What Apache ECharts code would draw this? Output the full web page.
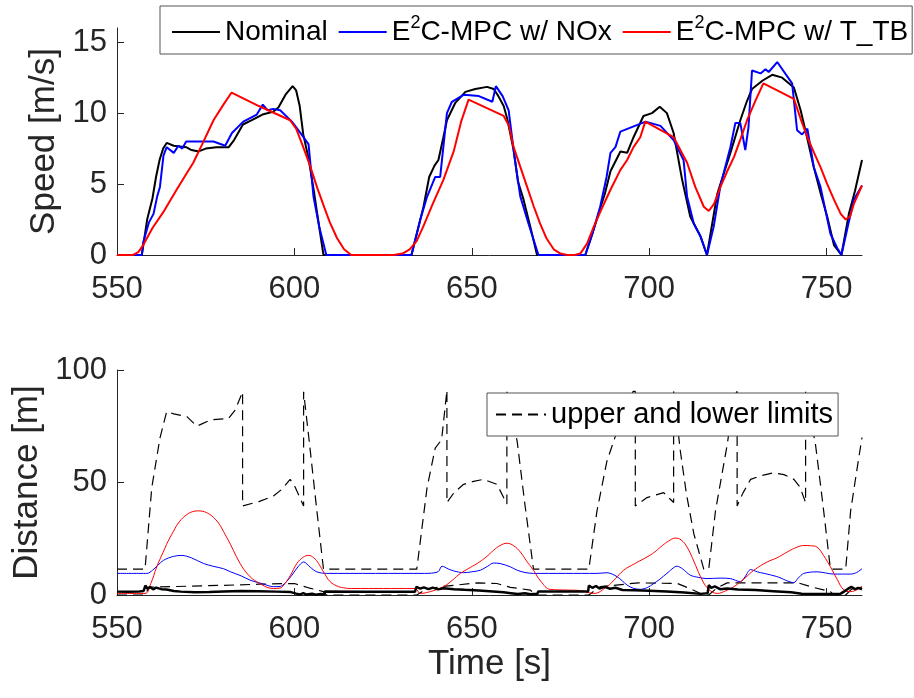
<!DOCTYPE html>
<html>
<head>
<meta charset="utf-8" />
<title>Speed / Distance</title>
<script src="https://cdn.jsdelivr.net/npm/echarts@6/dist/echarts.min.js"></script>
</head>
<body style="margin:0;background:#fff;">
<div id="main" style="width:914px;height:698px;"></div>
<script>
// --- data, [time s, value] ---
var xTicks = [550, 600, 650, 700, 750];
var speedTicks = [0, 5, 10, 15];
var distTicks = [0, 50, 100];
var legendTop = ['Nominal', 'E2C-MPC w/ NOx', 'E2C-MPC w/ T_TB'];
var limitName = 'upper and lower limits';

var speedNominal = [[550,0],[557,0],[558.5,2.5],[560,4],[561,5.5],[562,6.7],[563,7.5],[564,7.9],[566,7.7],[569.5,7.6],[571,7.4],[573,7.3],[575,7.5],[578,7.6],[581.5,7.6],[583,8.1],[585.5,9.2],[588,9.5],[591,9.9],[594,10.1],[595.5,10.4],[597.5,11.3],[599.5,11.9],[600.5,11.6],[601.5,10.5],[602.5,8.5],[604,6.8],[605.5,4.5],[606.5,2.8],[608.2,0],
  [633,0],[634.5,1.5],[636.4,3.4],[638,5.5],[639.5,6.3],[640.6,6.7],[642,8.3],[643,9.5],[645.3,10.7],[648.2,11.5],[651,11.7],[654.3,11.85],[656.2,11.7],[657.5,11.2],[659,10.5],[660,9.6],[661.8,7.4],[663,5.2],[664.6,3.9],[666.5,2.0],[668.4,0],
  [682,0],[684,1.5],[686.2,3.3],[687.5,4.3],[689.1,5.9],[691.9,7.3],[693.8,7.2],[695.6,8.3],[698.4,9.8],[700.8,10.0],[703,10.45],[705,10.0],[706.9,8.6],[709.3,5.3],[711.6,2.7],[714.5,1.3],[716.3,0],[717.5,1.8],[719.2,4.3],[722.9,7.2],[725.7,9.5],[727.5,10.8],[729,11.7],[732,12.3],[734.7,12.7],[737.5,12.5],[740.8,11.8],[742.7,10.2],[744.5,8.3],[746.4,6.2],[748.5,4.2],[750.2,2.7],[752.1,0.7],[754.2,0],[756.3,2.9],[758,4.5],[760,6.7]];

var speedNOx = [[550,0],[557,0],[557.4,0.9],[559,2.3],[560.3,2.9],[561.3,4.1],[562.1,4.8],[563.1,7.0],[564,7.6],[566,7.2],[567.3,7.7],[568.4,7.5],[569.5,8.0],[577.2,8.0],[580.5,7.7],[582.4,8.6],[585.6,9.4],[589.4,9.9],[591.1,10.6],[592.5,10.2],[594,10.3],[596,10.2],[599.3,9.4],[602,8.5],[604,7.8],[605.4,4.1],[607,2.0],[609,0],
  [633,0],[635.5,2.5],[637.4,4.1],[639.7,5.5],[641.1,5.5],[643,10.0],[644.4,10.8],[647.8,11.3],[652,11.2],[655.8,10.8],[656.8,11.9],[658.7,11.2],[660.4,10.2],[662,7.0],[663.7,4.1],[666,2.2],[668.8,0],
  [682,0],[684,1.5],[686.2,3.4],[688,5.5],[689.1,7.2],[690.5,7.6],[691.9,8.7],[699,9.4],[703.2,9.1],[706.9,8.1],[709.7,6.7],[710.7,4.1],[712.6,2.2],[714.5,1.3],[716.3,0],[718.2,2.0],[720.1,4.9],[722.9,7.6],[724.3,9.3],[725.7,9.3],[727.1,7.4],[728,9.0],[729,13.0],[731.4,12.8],[732.8,13.1],[733.7,12.9],[736.1,13.6],[740.3,12.1],[741.7,8.8],[743.1,8.5],[744.6,8.9],[746.4,6.2],[748.3,4.8],[751.1,1.5],[753,0.5],[754.2,0],[755.8,1.8],[757.7,3.9],[760,4.9]];

var speedTTB = [[550,0],[554.5,0],[556,0.2],[557.4,0.7],[560,1.9],[563,3.0],[566.8,4.6],[569,5.5],[571.5,6.5],[574,7.8],[577.2,9.5],[580,10.6],[582.3,11.45],[590,10.5],[598.8,9.5],[600.5,8.9],[602.5,7.6],[604.4,6.3],[606.5,4.7],[608.5,3.3],[610,2.3],[612,1.2],[614,0.4],[616,0],
  [628,0],[630.5,0.1],[632.5,0.4],[634.5,1.0],[636.5,2.1],[639,3.6],[642,5.3],[644.9,7.3],[647,9.4],[649.1,10.95],[659,9.8],[660.5,9.1],[661.8,7.6],[665.6,4.8],[667.5,3.4],[669.3,2.2],[671,1.2],[673.1,0.4],[675,0.1],[676.9,0],[679,0],[680.6,0.1],[682.5,0.8],[684.4,2.0],[686.7,3.3],[689.1,4.6],[691.9,6.0],[693.8,6.7],[695.6,7.6],[697.5,8.3],[698.9,9.4],[706.9,8.3],[708.8,7.4],[710.7,6.5],[713,4.8],[715.4,3.4],[716.8,3.1],[718.3,3.6],[720.1,4.8],[722,5.9],[723.9,6.9],[725.8,8.2],[727.6,9.5],[730,10.9],[732.2,12.1],[740.8,11.0],[742.7,9.6],[744.6,8.3],[746.5,7.2],[748.3,6.2],[750.2,5.0],[752.1,3.9],[754,2.9],[755.4,2.5],[756.6,2.7],[757.7,3.6],[760,4.9]];

var distUpper = [[550,11.5],[557.9,11.5],[559.8,47.7],[562.1,69.7],[564,81.5],[566,80.5],[569.7,79.3],[572.5,75],[576.3,77.8],[579,78.2],[581.4,78.4],[583.3,82.2],[585.4,90.3],[585.4,39.6],[590,41.5],[594.1,44],[596.5,47],[598.8,51.4],[600.2,48],[602.6,39.6],[602.6,90.3],[604.4,65.3],[606.3,38],[608.2,11.5],
  [634.5,11.5],[637.4,47.7],[639.7,65.3],[641.5,69],[643,91],[643,41.1],[645,45.5],[647.7,49.2],[650.5,50.5],[653.3,51.4],[657.1,49.2],[659.9,40.4],[659.9,90.3],[662.8,68.3],[665,40],[667.4,11.5],
  [683,11.5],[685.3,37.4],[688.1,59.5],[690.3,69.7],[693,82],[695.5,90.5],[696.1,90.5],[696.1,39.6],[699.4,43.3],[702,44.5],[704.1,45.5],[706.9,41.1],[706.9,90.5],[708.8,63.9],[710.5,45],[712.6,27.2],[715.4,11.5],[716.8,11.5],[718.7,37.4],[722,66.8],[723.9,88],[724.8,90.5],[724.8,39.6],[726.5,45.5],[728.6,51.4],[731.5,53],[735.1,54.3],[738,53.5],[740.8,51.4],[742.5,48],[744.1,41.1],[744.1,90.5],[746.9,66.8],[749,40],[751.1,11.5],[755.4,11.5],[756.8,37.4],[758.5,55],[760,70]];

var distLower = [[550,0],[557.9,0],[559,3.5],[562,3.6],[570,3.9],[580,4.3],[590,4.8],[597,5.1],[600,5.1],[604,3.2],[608.2,1.5],[609,0],
  [634.5,0],[637,2.5],[642,3.8],[651.5,5.4],[657.1,5.1],[660.9,3.4],[666.5,2.2],[668,0],
  [683,0],[686.2,3.7],[697,5.4],[708,5.1],[712,2.5],[715.4,0],[716.8,0],[719,3],[722,5.4],[742,5.4],[745.5,3.7],[751.1,1.5],[752,0],[755.4,0],[757,2.5],[760,3.5]];

var distNOx = [[550,9.6],[558.5,9.6],[560,11],[563.1,15.4],[566,17.2],[568.3,17.6],[571,16.5],[574.4,14],[577,12.8],[580,11.7],[582,10.3],[585,8.5],[587.5,6.6],[591,5],[594.1,3.7],[596,3.8],[597.5,5.5],[599.3,8.8],[601,12.5],[602.6,14.7],[604.5,12.3],[606.3,10.3],[609,9.6],[636.7,9.6],[640.5,10.3],[641.6,12.8],[643.5,11.5],[644.9,10.7],[647.7,9.9],[650,10.3],[652.4,11],[654.5,12.8],[656.1,14.2],[658,14],[660.9,12.5],[662.8,11],[665,10],[667.4,9.6],[685.3,9.6],[688.1,9.9],[691,8.1],[693.8,4.4],[695.5,3.0],[697.5,2.5],[699.5,3.3],[701.3,5.1],[703,7],[705,9.6],[707.9,12.8],[709.5,11.5],[711.6,8.8],[714,7.8],[716.3,7.3],[720,7.5],[722.9,7.3],[725.7,5.9],[727,8],[728.6,11.3],[730.5,10.3],[732.4,9.6],[736,8.2],[740.8,5.5],[742,7.5],[743.6,9.6],[747.3,10.3],[752.1,9.3],[756.8,9.3],[758.5,10],[760,11.7]];

var distTTB = [[550,0.7],[557.9,0.7],[559.5,5],[561.2,12.5],[563,19],[565,25.7],[568.7,34.5],[572.9,37.4],[577.2,34.5],[580.9,25.7],[584.7,14],[587,9],[589.4,5.9],[594.1,2.9],[596,3.1],[597,4.4],[598.8,8.5],[600.7,14],[602.5,16.8],[604,17.6],[605.5,16.5],[606.8,14],[608.5,9.5],[610.1,5.9],[612,4],[613.8,3.2],[616,2.9],[634,2.9],[635.5,0.7],[638.3,1.5],[642,3.7],[644.5,6.5],[646.8,9.6],[649,11.7],[651.5,14],[654,16.8],[656.1,19.8],[658,22],[659.9,23],[661.8,21.9],[663.7,19.1],[665.5,15],[667.4,11],[669.5,6],[672.1,2.5],[676.9,2.2],[680.5,2],[684.4,0.7],[688.1,3.7],[690.5,7.3],[692.8,11],[696,14],[699.4,16.9],[701.5,19],[703.2,21.3],[705.5,24],[707.4,25.3],[709,24.5],[710.7,21.3],[712.6,15],[714.5,8.1],[716.5,3],[719.2,0.7],[721.5,1.8],[723.9,3.7],[727,7.5],[729.5,11],[733.3,14.7],[736,16.5],[738.9,19.1],[741,20.8],[743.6,22],[745.5,21.9],[747.3,21.3],[749.2,17.5],[751.1,12.5],[753,7],[754.9,2.2],[756.8,1.5],[760,3.7]];

var distNominal = [[550,1.5],[553,1.4],[556,1.5],[557.5,1.8],[558,4.2],[558.6,2.8],[559.3,3.6],[560.2,2.5],[561,3.3],[562.5,2.6],[564,2.4],[566,1.8],[568,1.5],[572,1.2],[576,1.3],[580,1.6],[585,1.8],[590,1.7],[595,1.5],[599,1.3],[600.5,0.6],[601.5,0.2],[602.5,0.8],[603.5,0.2],[605,0.6],[606,0.1],[607.5,0.5],[608.3,0.2],[608.6,1.6],[620,1.5],[634,1.5],[634.4,3.6],[635.5,2.8],[636.5,3.4],[637.8,2.6],[639,3.3],[640.5,2.5],[642,3.0],[645,2.6],[648,2.3],[652,2.0],[656,1.6],[659,1.2],[661,0.8],[663,0.4],[665,0.8],[666.5,0.3],[668.5,0.6],[668.8,1.6],[676,1.6],[682.8,1.6],[683,4.2],[684,3.2],[685,4.0],[686,2.9],[687.5,3.6],[689,2.8],[690.5,3.2],[692.5,2.2],[696,2.1],[700,1.9],[705,1.6],[710,1.1],[714.5,0.5],[716.5,0.8],[716.8,4.4],[717.5,3.2],[718.5,3.8],[720,2.6],[722,2.9],[725,2.4],[730,2.2],[735,1.7],[740,1.2],[743,0.6],[748,0.5],[752,0.4],[754,0.6],[755,1.6],[756,2.7],[757,3.6],[758,2.6],[759,3.2],[760,2.5]];

var axisColor = '#262626';
var fontFam = '"Liberation Sans", Arial, Helvetica, sans-serif';

function xAxisCfg(gridIndex, withName) {
  return {
    type: 'value', gridIndex: gridIndex, min: 550, max: 760, interval: 50,
    name: withName ? 'Time [s]' : '', nameLocation: 'middle', nameGap: 52,
    nameTextStyle: { fontSize: 35, color: axisColor, fontFamily: fontFam },
    axisLine: { lineStyle: { color: axisColor, width: 1 } },
    axisTick: { inside: true, length: 7, customValues: xTicks, lineStyle: { color: axisColor } },
    axisLabel: { customValues: xTicks, fontSize: 31, color: axisColor, fontFamily: fontFam, margin: 19 },
    splitLine: { show: false }
  };
}
function yAxisCfg(gridIndex, name, max, interval, ticks, gap) {
  return {
    type: 'value', gridIndex: gridIndex, min: 0, max: max, interval: interval,
    name: name, nameLocation: 'middle', nameGap: gap,
    nameTextStyle: { fontSize: 35, color: axisColor, fontFamily: fontFam },
    axisLine: { show: true, lineStyle: { color: axisColor, width: 1 } },
    axisTick: { show: true, inside: true, length: 7, customValues: ticks, lineStyle: { color: axisColor } },
    axisLabel: { customValues: ticks, fontSize: 31, color: axisColor, fontFamily: fontFam, margin: 10 },
    splitLine: { show: false }
  };
}
function line(name, data, color, width, xi, extra) {
  var s = {
    name: name, type: 'line', xAxisIndex: xi, yAxisIndex: xi, data: data,
    symbol: 'none', showSymbol: false, lineStyle: { color: color, width: width },
    itemStyle: { color: color }, z: 2
  };
  for (var k in extra) s[k] = extra[k];
  return s;
}

var dom = document.getElementById('main');
var myChart = echarts.init(dom, null, { renderer: 'canvas' });

var dashed = { color: '#000', width: 1.2, type: [10, 6] };

var option = {
  animation: false,
  backgroundColor: '#fff',
  textStyle: { fontFamily: fontFam },
  grid: [
    { left: 117, right: 52, top: 28, height: 227 },
    { left: 117, right: 52, top: 370, height: 225 }
  ],
  xAxis: [xAxisCfg(0, false), xAxisCfg(1, true)],
  yAxis: [
    yAxisCfg(0, 'Speed [m/s]', 16, 5, speedTicks, 48),
    yAxisCfg(1, 'Distance [m]', 100, 50, distTicks, 63)
  ],
  legend: [
    {
      data: legendTop, left: 160, top: 6, orient: 'horizontal',
      itemWidth: 48, itemHeight: 14, itemGap: 10,
      padding: [8, 4, 8, 11],
      itemStyle: { opacity: 0 },
      backgroundColor: '#fff', borderColor: '#555', borderWidth: 1,
      formatter: function (n) {
        if (n.indexOf('E2C') === 0) return '{a|E}{sup|2}{a|' + n.slice(2) + '}';
        return '{a|' + n + '}';
      },
      textStyle: {
        color: '#000', fontFamily: fontFam, fontSize: 28,
        rich: {
          a: { fontSize: 28, lineHeight: 36, color: '#000', fontFamily: fontFam },
          sup: { fontSize: 18, lineHeight: 18, verticalAlign: 'top', color: '#000', fontFamily: fontFam }
        }
      }
    },
    {
      data: [limitName], left: 487, top: 393, itemWidth: 50, itemHeight: 14,
      padding: [7, 5, 7, 8],
      itemStyle: { opacity: 0 },
      backgroundColor: '#fff', borderColor: '#555', borderWidth: 1,
      textStyle: { color: '#000', fontFamily: fontFam, fontSize: 29 }
    }
  ],
  series: [
    line('Nominal', speedNominal, '#000000', 2, 0),
    line('E2C-MPC w/ NOx', speedNOx, '#0000ff', 2, 0),
    line('E2C-MPC w/ T_TB', speedTTB, '#ff0000', 2, 0),
    line(limitName, distUpper, '#000000', 1.2, 1, { lineStyle: dashed }),
    line(limitName, distLower, '#000000', 1.2, 1, { lineStyle: dashed }),
    line('NOx distance', distNOx, '#0000ff', 1, 1, { smooth: 0.3 }),
    line('T_TB distance', distTTB, '#ff0000', 1, 1, { smooth: 0.4 }),
    line('Nominal distance', distNominal, '#000000', 2.5, 1)
  ]
};
myChart.setOption(option);
window.addEventListener('resize', myChart.resize);
</script>
</body>
</html>
